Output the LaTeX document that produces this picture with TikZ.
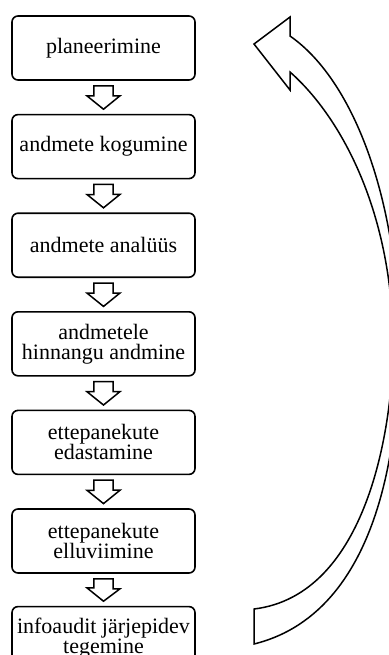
\documentclass[tikz,border=0pt]{standalone}
\usepackage{fontspec}
\setmainfont{Liberation Serif}
\usepackage{tikz}
\usetikzlibrary{positioning, calc}

\begin{document}
\begin{tikzpicture}[x=0.5pt, y=-0.5pt, node distance=16.5pt,
    stage/.style={draw, line width=0.8pt, rounded corners=3pt, minimum width=91.5pt, minimum height=32pt, inner sep=2pt, align=center, font=\fontsize{11pt}{10pt}\selectfont},
    downarrow/.style={draw, line width=0.75pt, fill=white},
    cyclearrow/.style={draw, line width=0.75pt}]
    \clip (0,0) rectangle (389,655);
    \node[stage] (plan) at (103.5,48) {planeerimine};
    \node[stage, below=of plan] (kogu) {andmete kogumine};
    \node[stage, below=of kogu] (anal) {andmete analüüs};
    \node[stage, below=of anal] (hinn) {andmetele\\hinnangu andmine};
    \node[stage, below=of hinn] (edas) {ettepanekute\\edastamine};
    \node[stage, below=of edas] (ellu) {ettepanekute\\elluviimine};
    \node[stage, below=of ellu, yshift=0.5pt] (audit) {infoaudit järjepidev\\tegemine};
    \foreach \a/\b in {plan/kogu, kogu/anal, anal/hinn, hinn/edas, edas/ellu, ellu/audit}
        \draw[downarrow] ($(\a.south)+(-4.8pt,-2.5pt)$) -- ++(9.6pt,0) -- ++(0,-5pt) -- ++(3.45pt,0) -- ($(\b.north)+(0,2.3pt)$) -- ++(-8.25pt,6.65pt) -- ++(3.45pt,0) -- cycle;
    % big curved arrow back to the top
    \draw[cyclearrow] (254,44) -- (290,17) -- (290,36) .. controls (355.6,81.6) and (399,205) .. (399,345) .. controls (399,415) and (389.8,610.4) .. (254,644) -- (254,609) .. controls (367.9,595.2) and (393,425) .. (393,345) .. controls (393,215) and (342.5,118.2) .. (290,72) -- (290,90) -- cycle;
\end{tikzpicture}
\end{document}
